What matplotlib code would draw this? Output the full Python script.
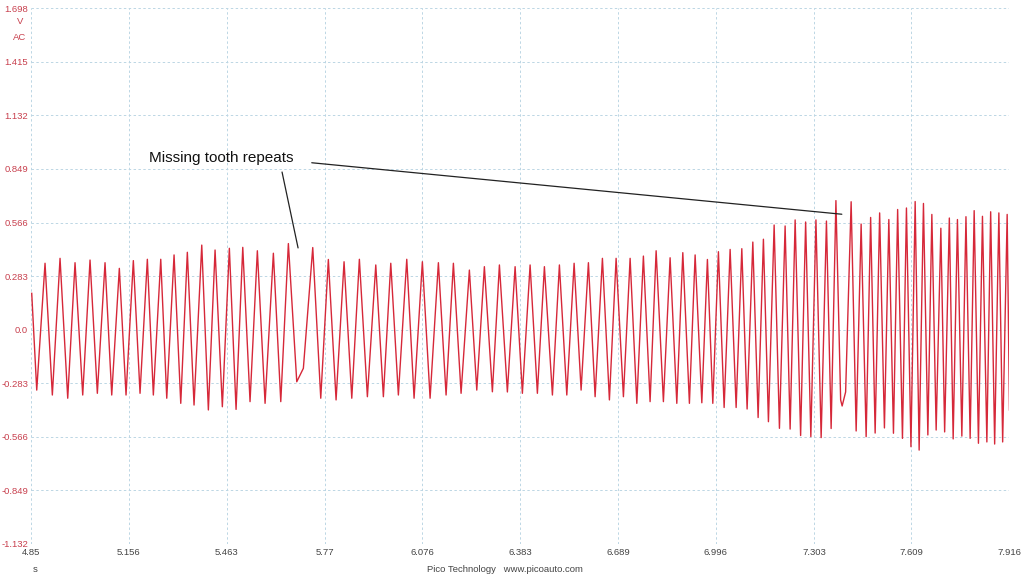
import matplotlib
matplotlib.use("Agg")
import matplotlib.pyplot as plt

# crank sensor trace, peaks/troughs
sample_t = [4.8522, 4.8679, 4.8939, 4.9168, 4.9409, 4.9650, 4.9879, 5.0120, 5.0349, 5.0578,
            5.0819, 5.1029, 5.1267, 5.1477, 5.1706, 5.1916, 5.2145, 5.2333, 5.2565, 5.2753,
            5.2982, 5.3192, 5.3398, 5.3608, 5.3850, 5.4057, 5.4267, 5.4495, 5.4715, 5.4925,
            5.5135, 5.5363, 5.5592, 5.5834, 5.6094, 5.6326, 5.6564, 5.6827, 5.6930, 5.7034,
            5.7328, 5.7579, 5.7817, 5.8059, 5.8309, 5.8551, 5.8789, 5.9040, 5.9303, 5.9541,
            5.9773, 6.0011, 6.0274, 6.0503, 6.0763, 6.1005, 6.1265, 6.1506, 6.1735, 6.1976,
            6.2236, 6.2468, 6.2706, 6.2957, 6.3177, 6.3427, 6.3669, 6.3897, 6.4139, 6.4367,
            6.4587, 6.4838, 6.5057, 6.5289, 6.5518, 6.5737, 6.5966, 6.6176, 6.6405, 6.6624,
            6.6834, 6.7063, 6.7273, 6.7483, 6.7689, 6.7899, 6.8088, 6.8316, 6.8526, 6.8736,
            6.8924, 6.9131, 6.9310, 6.9520, 6.9695, 6.9864, 7.0040, 7.0219, 7.0407, 7.0595,
            7.0773, 7.0939, 7.1118, 7.1284, 7.1450, 7.1607, 7.1786, 7.1952, 7.2130, 7.2287,
            7.2444, 7.2616, 7.2773, 7.2936, 7.3096, 7.3259, 7.3425, 7.3572, 7.3722, 7.3870,
            7.3917, 7.4026, 7.4199, 7.4356, 7.4512, 7.4669, 7.4810, 7.4951, 7.5092, 7.5242,
            7.5380, 7.5525, 7.5656, 7.5807, 7.5932, 7.6073, 7.6205, 7.6330, 7.6465, 7.6603,
            7.6728, 7.6863, 7.7010, 7.7129, 7.7276, 7.7396, 7.7530, 7.7668, 7.7797, 7.7928,
            7.8054, 7.8188, 7.8314, 7.8452, 7.8571, 7.8696, 7.8828, 7.8947, 7.9088, 7.9160]
sample_v = [0.192, -0.319, 0.351, -0.345, 0.377, -0.362, 0.354, -0.345, 0.368, -0.336,
            0.354, -0.345, 0.324, -0.345, 0.365, -0.336, 0.372, -0.345, 0.372, -0.362,
            0.395, -0.389, 0.409, -0.398, 0.447, -0.424, 0.421, -0.407, 0.430, -0.421,
            0.435, -0.380, 0.417, -0.389, 0.404, -0.380, 0.455, -0.275, -0.239, -0.204,
            0.434, -0.362, 0.371, -0.371, 0.359, -0.362, 0.372, -0.354, 0.342, -0.354,
            0.351, -0.345, 0.372, -0.362, 0.359, -0.362, 0.354, -0.345, 0.351, -0.336,
            0.315, -0.319, 0.333, -0.328, 0.342, -0.329, 0.333, -0.336, 0.342, -0.336,
            0.333, -0.345, 0.342, -0.345, 0.351, -0.319, 0.354, -0.354, 0.377, -0.371,
            0.377, -0.354, 0.377, -0.389, 0.389, -0.380, 0.417, -0.380, 0.380, -0.389,
            0.407, -0.389, 0.395, -0.386, 0.371, -0.389, 0.412, -0.411, 0.424, -0.411,
            0.428, -0.419, 0.463, -0.464, 0.478, -0.486, 0.553, -0.521, 0.548, -0.525,
            0.580, -0.559, 0.569, -0.565, 0.580, -0.570, 0.574, -0.522, 0.682, -0.371,
            -0.403, -0.329, 0.676, -0.535, 0.558, -0.565, 0.593, -0.546, 0.617, -0.519,
            0.582, -0.547, 0.635, -0.574, 0.643, -0.618, 0.677, -0.636, 0.667, -0.556,
            0.609, -0.530, 0.536, -0.540, 0.590, -0.577, 0.582, -0.562, 0.597, -0.574,
            0.629, -0.600, 0.599, -0.593, 0.623, -0.604, 0.617, -0.593, 0.609, -0.424]

x_ticks = [4.85, 5.156, 5.463, 5.77, 6.076, 6.383, 6.689, 6.996, 7.303, 7.609, 7.916]
y_ticks = [-1.132, -0.849, -0.566, -0.283, 0.0, 0.283, 0.566, 0.849, 1.132, 1.415, 1.698]
y_labels = ["-1.132", "-0.849", "-0.566", "-0.283", "0.0", "0.283", "0.566", "0.849",
            "1.132", "1.415", "1.698"]

# annotation: text anchor, and where the two pointer lines start/end
note_xy = (5.22, 0.907)
tooth1_from, tooth1_to = (5.6366, 0.833), (5.6868, 0.432)
tooth2_from, tooth2_to = (5.7297, 0.882), (7.3907, 0.610)

plt.rcParams['font.family'] = ['Liberation Sans', 'DejaVu Sans']

fig = plt.figure(figsize=(10.24, 5.76), dpi=100)
ax = fig.add_axes([0.0303, 0.0556, 0.9555, 0.93])

ax.plot(sample_t, sample_v, color="#d62839", lw=1.0)

ax.set_xlim(4.85, 7.916)
ax.set_ylim(-1.132, 1.698)
ax.set_xticks(x_ticks)
ax.set_xticklabels([str(t) for t in x_ticks])
ax.set_yticks(y_ticks)
ax.set_yticklabels(y_labels)
ax.tick_params(axis="both", length=0, labelsize=6.8)
ax.tick_params(axis="y", pad=2, labelcolor="#c8404e")
ax.tick_params(axis="x", pad=3, labelcolor="#444444")
ax.grid(True, color="#bcd6e4", lw=0.7, ls=(0, (2.5, 2.5)))
for s in ax.spines.values():
    s.set_visible(False)

ax.text(note_xy[0], note_xy[1], "Missing tooth repeats", fontsize=11, va="center",
        ha="left", color="#111111")
ax.annotate("", xy=tooth1_to, xytext=tooth1_from,
            arrowprops=dict(arrowstyle="-", color="#222222", lw=0.9, shrinkA=0, shrinkB=0))
ax.annotate("", xy=tooth2_to, xytext=tooth2_from,
            arrowprops=dict(arrowstyle="-", color="#222222", lw=0.9, shrinkA=0, shrinkB=0))

fig.text(0.0195, 1 - 22 / 576, "V", fontsize=6.8, color="#c8404e", ha="center", va="center")
fig.text(0.0195, 1 - 37 / 576, "AC", fontsize=6.8, color="#c8404e", ha="center", va="center")
fig.text(0.034, 1 - 570 / 576, "s", fontsize=6.8, color="#444444", ha="center", va="center")
fig.text(0.493, 1 - 570 / 576, "Pico Technology   www.picoauto.com", fontsize=6.8,
         color="#444444", ha="center", va="center")

fig.savefig("out.png", dpi=100)
